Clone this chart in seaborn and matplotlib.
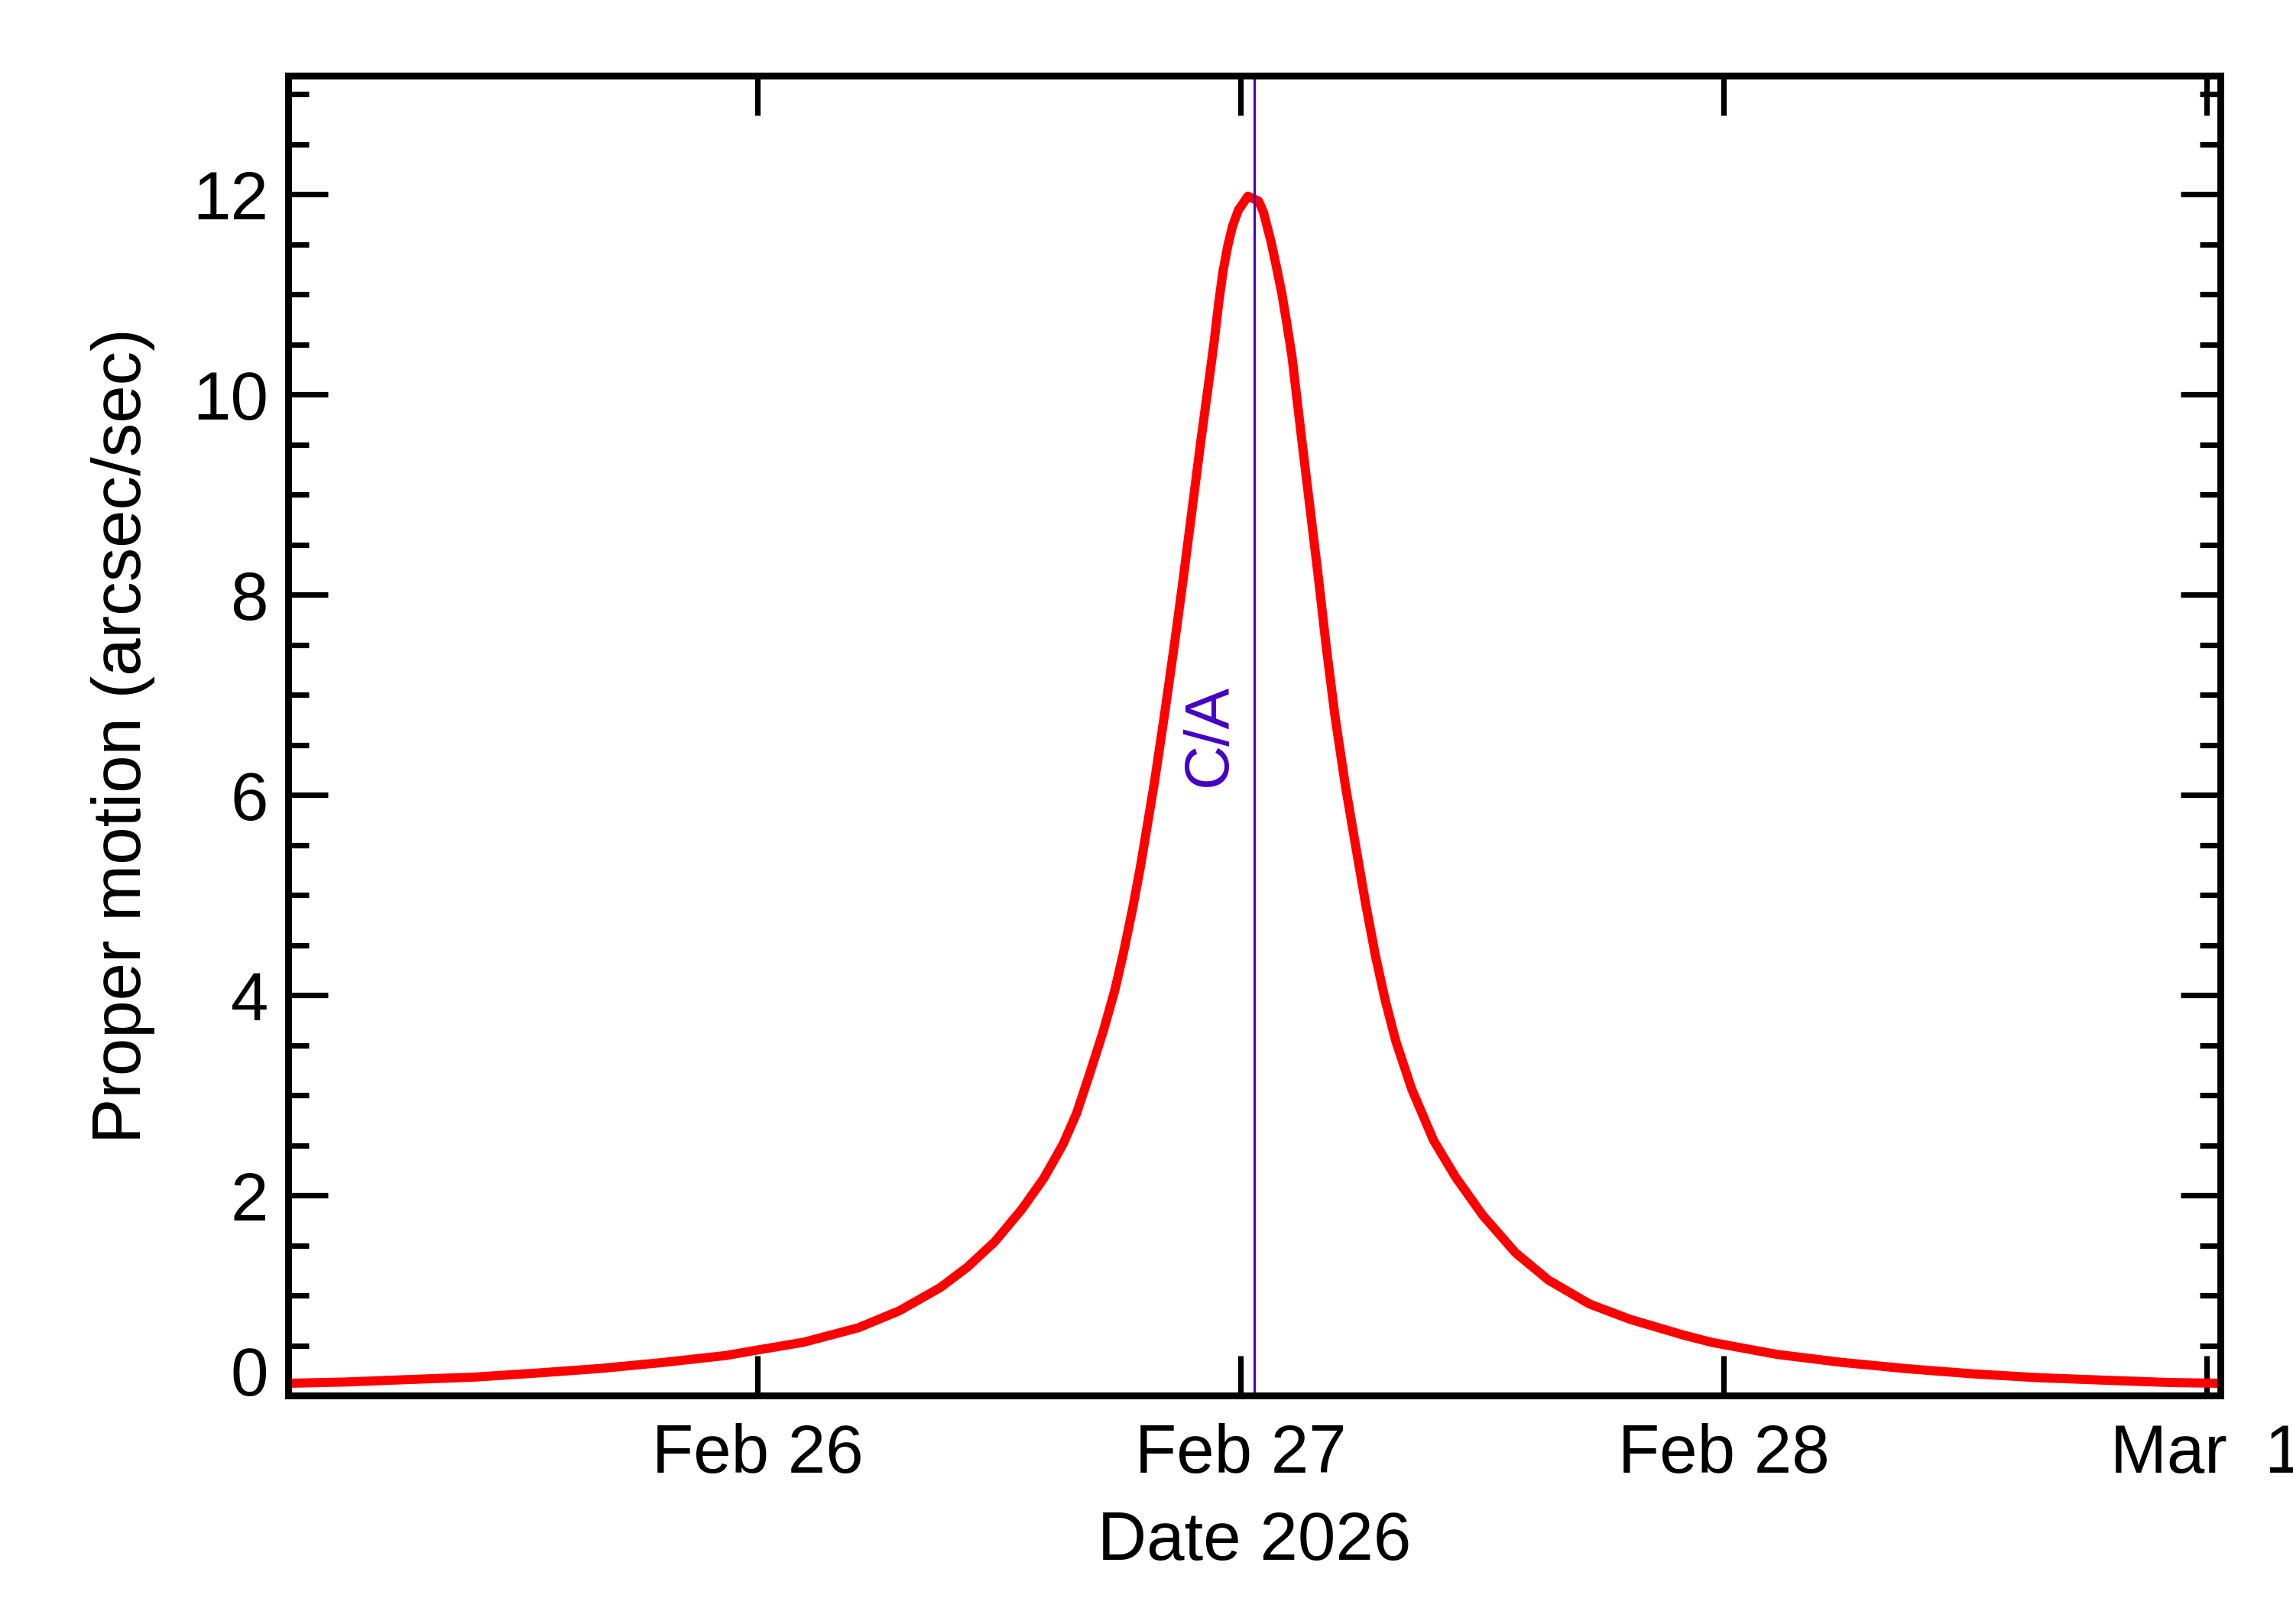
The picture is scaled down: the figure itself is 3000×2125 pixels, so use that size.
import matplotlib
matplotlib.use("Agg")
import matplotlib.pyplot as plt
import matplotlib.dates as mdates
from matplotlib.ticker import MultipleLocator, FuncFormatter, NullLocator
import seaborn as sns
import pandas as pd

# close approach time; plot window is CA +/- 2 days
CA_TIME = pd.Timestamp("2026-02-27 00:41")

# days from close approach
offset_days = [
    -1.999, -1.88, -1.748, -1.617, -1.486, -1.354, -1.224, -1.093, -1.046,
    -0.933, -0.820, -0.735, -0.650, -0.594, -0.537, -0.481, -0.436, -0.396,
    -0.368, -0.340, -0.313, -0.289, -0.271, -0.252, -0.235, -0.207,
    -0.186, -0.166, -0.147, -0.129, -0.111, -0.092, -0.083, -0.074, -0.065,
    -0.055, -0.045, -0.033, -0.013,
    0.009, 0.019, 0.035, 0.046, 0.057, 0.067, 0.078, 0.099, 0.116,
    0.133, 0.149, 0.167, 0.188, 0.212, 0.231, 0.251, 0.271, 0.293, 0.326,
    0.371, 0.417, 0.473, 0.541, 0.609, 0.694, 0.778, 0.891, 0.948, 1.083,
    1.218, 1.353, 1.489, 1.623, 1.76, 1.894, 1.999,
]
# proper motion (arcsec/sec)
proper_motion = [
    0.122, 0.135, 0.16, 0.183, 0.224, 0.27, 0.33, 0.40, 0.44,
    0.532, 0.676, 0.846, 1.078, 1.282, 1.537, 1.862, 2.168, 2.509,
    2.817, 3.225, 3.633, 4.043, 4.418, 4.86, 5.30, 6.115,
    6.796, 7.478, 8.16, 8.84, 9.52, 10.2, 10.53, 10.90, 11.22,
    11.48, 11.68, 11.84, 11.98,
    11.93, 11.82, 11.52, 11.27, 11.01, 10.72, 10.38, 9.52, 8.84,
    8.16, 7.48, 6.79, 6.11, 5.43, 4.90, 4.39, 3.95, 3.54, 3.06,
    2.55, 2.18, 1.80, 1.425, 1.153, 0.914, 0.761, 0.60, 0.53, 0.41,
    0.33, 0.267, 0.216, 0.178, 0.153, 0.13, 0.122,
]

y_ticks = [0, 2, 4, 6, 8, 10, 12]
x_tick_days = ["2026-02-26", "2026-02-27", "2026-02-28", "2026-03-01"]

df = pd.DataFrame({
    "date": CA_TIME + pd.to_timedelta(offset_days, unit="D"),
    "motion": proper_motion,
})

sns.set_style("ticks")
plt.rcParams["font.family"] = ["Liberation Sans", "DejaVu Sans"]
plt.rcParams["font.size"] = 32
for key in ["text.color", "axes.labelcolor", "xtick.color", "ytick.color", "axes.edgecolor"]:
    plt.rcParams[key] = "black"

fig = plt.figure(figsize=(15, 10.625), dpi=200)
ax = fig.add_axes([0.1257, 0.1407, 0.8426, 0.8125])

sns.lineplot(data=df, x="date", y="motion", ax=ax, color="red", lw=4.3,
             sort=False, solid_joinstyle="round")

# close approach marker
ca_color = "#4400c4"
ax.axvline(CA_TIME, color=ca_color, lw=1.1)
ax.annotate("C/A", xy=(CA_TIME, 6.6), xytext=(-21, 0), textcoords="offset points",
            rotation=90, ha="center", va="center", color=ca_color, fontsize=29)

ax.set_xlim(CA_TIME - pd.Timedelta(days=2), CA_TIME + pd.Timedelta(days=2))
ax.set_ylim(0, 13.18)

ax.set_xticks(pd.to_datetime(x_tick_days))
ax.xaxis.set_major_formatter(FuncFormatter(
    lambda v, pos: "{:%b} {:2d}".format(mdates.num2date(v), mdates.num2date(v).day)))
ax.xaxis.set_minor_locator(NullLocator())
ax.set_yticks(y_ticks)
ax.yaxis.set_minor_locator(MultipleLocator(0.5))

ax.tick_params(which="both", direction="in", top=True, right=True, width=2.6, colors="black")
ax.tick_params(which="major", length=18.7)
ax.tick_params(which="minor", length=9.7)
ax.tick_params(axis="y", pad=9.4, labelsize=32)
ax.tick_params(axis="x", pad=13, labelsize=32)

for side in ["left", "right", "top", "bottom"]:
    ax.spines[side].set_visible(True)
    ax.spines[side].set_linewidth(3.2)
    ax.spines[side].set_color("black")

ax.set_xlabel("Date 2026", fontsize=32, color="black")
ax.set_ylabel("Proper motion (arcsec/sec)", fontsize=32, color="black")
ax.xaxis.set_label_coords(0.5, -0.087)
ax.yaxis.set_label_coords(-0.069, 0.5)

# the zero label sits on the axis line rather than centred on it
ax.yaxis.get_major_ticks()[0].label1.set_verticalalignment("baseline")

fig.savefig("out.png", dpi=200, facecolor="white")
